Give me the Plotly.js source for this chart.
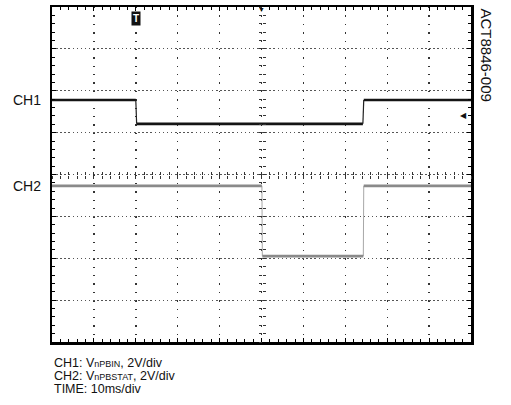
<!DOCTYPE html>
<html>
<head>
<meta charset="utf-8">
<script src="https://cdn.plot.ly/plotly-3.0.1.min.js"></script>
<style>html,body{margin:0;padding:0;background:#fff;}</style>
</head>
<body>
<div id="chart" style="width:511px;height:405px;"></div>
<script>
// Time in ms (10 ms/div, 10 divisions); vertical values in screen divisions (8 divisions)
// Each channel is a set of flat segments: start time, end time, level
const ch1Start = [0, 20.2, 74.4];
const ch1End = [20.0, 74.2, 100];
const ch1Level = [5.78, 5.21, 5.78];
const ch2Start = [0, 50.2, 74.4];
const ch2End = [50.1, 74.3, 100];
const ch2Level = [3.73, 2.05, 3.73];
const channelLabels = ["CH1", "CH2"];
const footerLines = [
  "CH1: V<span style='font-size:9px'>nPBIN</span>, 2V/div",
  "CH2: V<span style='font-size:9px'>nPBSTAT</span>, 2V/div",
  "TIME: 10ms/div"
];
const figureId = "ACT8846-009";
const triggerTime = 20;
const triggerLevel = 5.4;
const centerTime = 50;

const FONT = '"Liberation Sans", Arial, sans-serif';

function flats(starts, ends, levels) {
  const x = [], y = [];
  for (let i = 0; i < starts.length; i++) {
    x.push(starts[i], ends[i], null);
    y.push(levels[i], levels[i], null);
  }
  return {x, y};
}
function edges(starts, ends, levels) {
  const x = [], y = [];
  for (let i = 0; i < starts.length - 1; i++) {
    x.push(ends[i], starts[i + 1], null);
    y.push(levels[i], levels[i + 1], null);
  }
  return {x, y};
}

const c1f = flats(ch1Start, ch1End, ch1Level), c1e = edges(ch1Start, ch1End, ch1Level);
const c2f = flats(ch2Start, ch2End, ch2Level), c2e = edges(ch2Start, ch2End, ch2Level);

const traces = [
  {x: c2e.x, y: c2e.y, mode: 'lines', line: {color: '#a8a8a8', width: 1}, hoverinfo: 'skip'},
  {x: c2f.x, y: c2f.y, mode: 'lines', line: {color: '#8a8a8a', width: 2.8}, hoverinfo: 'skip'},
  {x: c1e.x, y: c1e.y, mode: 'lines', line: {color: '#222', width: 1.2}, hoverinfo: 'skip'},
  {x: c1f.x, y: c1f.y, mode: 'lines', line: {color: '#151515', width: 2.6}, hoverinfo: 'skip'},
  // carriers for the centre graticule tick axes (invisible)
  {x: c1f.x, y: c1f.y, xaxis: 'x2', yaxis: 'y2', mode: 'lines', line: {width: 0}, opacity: 0, hoverinfo: 'skip'},
  {x: c1f.x, y: c1f.y, xaxis: 'x3', yaxis: 'y3', mode: 'lines', line: {width: 0}, opacity: 0, hoverinfo: 'skip'}
];

const baseX = {range: [0, 100], showticklabels: false, zeroline: false, fixedrange: true};
const baseY = {range: [0, 8], showticklabels: false, zeroline: false, fixedrange: true};

const layout = {
  width: 511, height: 405,
  margin: {l: 52, r: 40, t: 7, b: 63},
  paper_bgcolor: '#fff', plot_bgcolor: '#fff',
  font: {family: FONT, color: '#111'},
  showlegend: false,
  xaxis: Object.assign({}, baseX, {
    dtick: 10, showgrid: true, gridcolor: '#333', gridwidth: 1.4, griddash: '1.4px,6.975px',
    showline: true, linecolor: '#000', linewidth: 2.5, mirror: 'ticks',
    ticks: 'inside', ticklen: 4, tickcolor: '#000', tickwidth: 1,
    minor: {dtick: 2, ticks: 'inside', ticklen: 3, tickcolor: '#000', showgrid: false}
  }),
  yaxis: Object.assign({}, baseY, {
    dtick: 1, showgrid: true, gridcolor: '#555', gridwidth: 1.2, griddash: '1.5px,2.6px',
    showline: true, linecolor: '#000', linewidth: 2.5, mirror: 'ticks',
    ticks: 'inside', ticklen: 4, tickcolor: '#000', tickwidth: 1,
    minor: {dtick: 0.2, ticks: 'inside', ticklen: 3, tickcolor: '#000', showgrid: false}
  }),
  xaxis2: Object.assign({}, baseX, {overlaying: 'x', anchor: 'free', position: 0.5, dtick: 2, ticks: 'outside', ticklen: 3, tickcolor: '#333', showgrid: false, showline: false}),
  xaxis3: Object.assign({}, baseX, {overlaying: 'x', anchor: 'free', position: 0.5, dtick: 2, ticks: 'inside', ticklen: 3, tickcolor: '#333', showgrid: false, showline: false}),
  yaxis2: Object.assign({}, baseY, {overlaying: 'y', anchor: 'free', position: 0.5, dtick: 0.2, ticks: 'outside', ticklen: 3, tickcolor: '#333', showgrid: false, showline: false}),
  yaxis3: Object.assign({}, baseY, {overlaying: 'y', anchor: 'free', position: 0.5, dtick: 0.2, ticks: 'inside', ticklen: 3, tickcolor: '#333', showgrid: false, showline: false}),
  annotations: [
    {text: channelLabels[0], xref: 'paper', yref: 'y', x: 0, y: ch1Level[0], xanchor: 'right', xshift: -9, yanchor: 'middle', showarrow: false, font: {size: 14, family: FONT, color: '#111'}},
    {text: channelLabels[1], xref: 'paper', yref: 'y', x: 0, y: ch2Level[0], xanchor: 'right', xshift: -9, yanchor: 'middle', showarrow: false, font: {size: 14, family: FONT, color: '#111'}},
    {text: footerLines[0], xref: 'paper', yref: 'paper', x: 0, y: -0.063, xanchor: 'left', yanchor: 'middle', showarrow: false, font: {size: 12.5, family: FONT, color: '#111'}},
    {text: footerLines[1], xref: 'paper', yref: 'paper', x: 0, y: -0.102, xanchor: 'left', yanchor: 'middle', showarrow: false, font: {size: 12.5, family: FONT, color: '#111'}},
    {text: footerLines[2], xref: 'paper', yref: 'paper', x: 0, y: -0.141, xanchor: 'left', yanchor: 'middle', showarrow: false, font: {size: 12.5, family: FONT, color: '#111'}},
    {text: figureId, xref: 'paper', yref: 'paper', x: 1, xshift: 15, y: 1, yshift: 1, xanchor: 'center', yanchor: 'top', textangle: 90, showarrow: false, font: {size: 15, family: FONT, color: '#111'}},
    {text: '<b>T</b>', xref: 'x', yref: 'paper', x: triggerTime, y: 1, yshift: -11, xanchor: 'center', yanchor: 'middle', showarrow: false, bgcolor: '#111', borderpad: 1, font: {size: 10, family: FONT, color: '#fff'}},
    {text: '▼', xref: 'x', yref: 'paper', x: centerTime, y: 1, yshift: -2, xanchor: 'center', yanchor: 'middle', showarrow: false, font: {size: 7, family: FONT, color: '#111'}},
    {text: '◀', xref: 'paper', yref: 'y', x: 1, xshift: -2, y: triggerLevel, xanchor: 'right', yanchor: 'middle', showarrow: false, font: {size: 8, family: FONT, color: '#111'}}
  ]
};

Plotly.newPlot('chart', traces, layout, {staticPlot: true, displayModeBar: false});
</script>
</body>
</html>
